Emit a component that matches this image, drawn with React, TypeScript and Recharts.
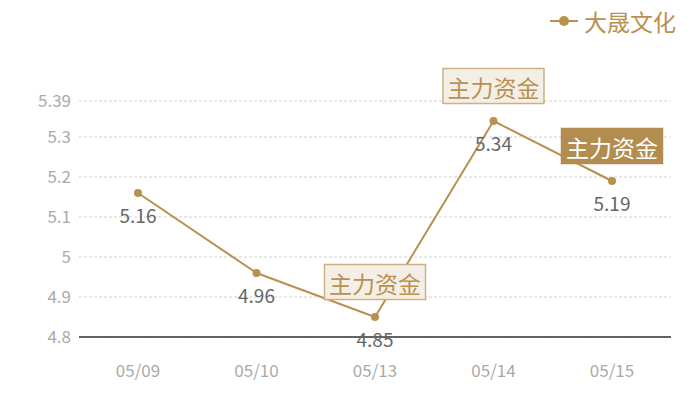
import React from "react";
import {
  LineChart,
  Line,
  XAxis,
  YAxis,
  CartesianGrid,
  LabelList,
  ReferenceDot,
} from "recharts";

const dates = ["05/09", "05/10", "05/13", "05/14", "05/15"];
const prices = [5.16, 4.96, 4.85, 5.34, 5.19];
const yTicks = [4.8, 4.9, 5, 5.1, 5.2, 5.3, 5.39];

// 主力资金 markers: which day, and whether the box is filled
const markDates = ["05/13", "05/14", "05/15"];
const markFilled = [false, false, true];
const markText = "主力资金";

const seriesName = "大晟文化";

const GOLD = "#b8914f";
const FONT = '"Noto Sans CJK SC", "Noto Sans", sans-serif';

const data = dates.map((d, i) => ({ date: d, price: prices[i] }));

const ValueLabel = (props: any) => {
  const { x, y, value } = props;
  return (
    <text
      x={x}
      y={y + 21}
      textAnchor="middle"
      dominantBaseline="central"
      fill="#666"
      fontSize={19}
      fontFamily={FONT}
    >
      {value}
    </text>
  );
};

const MarkBox = ({ cx, cy, filled }: { cx?: number; cy?: number; filled: boolean }) => {
  if (cx == null || cy == null) return null;
  const w = 101;
  const h = 35;
  const top = cy - 35 - h / 2;
  return (
    <g>
      <rect
        x={cx - w / 2}
        y={top}
        width={w}
        height={h}
        fill={filled ? "#b38c50" : "#f4efe6"}
        stroke={filled ? "#b38c50" : "#cdb083"}
        strokeWidth={1.5}
      />
      <text
        x={cx}
        y={top + h / 2 + 1}
        textAnchor="middle"
        dominantBaseline="central"
        fill={filled ? "#ffffff" : GOLD}
        fontSize={23}
        fontFamily={FONT}
      >
        {markText}
      </text>
    </g>
  );
};

export default function App() {
  return (
    <div style={{ position: "fixed", left: 0, top: 0, width: 700, height: 400, background: "#fff" }}>
      <div
        style={{
          position: "absolute",
          top: 4,
          right: 24,
          display: "flex",
          alignItems: "center",
          fontFamily: FONT,
          zIndex: 1,
        }}
      >
        <svg width={30} height={20}>
          <line x1={0} y1={10} x2={28} y2={10} stroke={GOLD} strokeWidth={2} />
          <circle cx={14} cy={10} r={5} fill={GOLD} />
        </svg>
        <span style={{ color: GOLD, fontSize: 23, marginLeft: 4 }}>{seriesName}</span>
      </div>
      <LineChart
        width={700}
        height={400}
        data={data}
        margin={{ top: 101, right: 29, left: 0, bottom: 23 }}
      >
        <CartesianGrid
          horizontal
          vertical={false}
          stroke="#d0d0d0"
          strokeDasharray="3 2"
        />
        <XAxis
          dataKey="date"
          axisLine={{ stroke: "#333333", strokeWidth: 1.5 }}
          tickLine={false}
          tick={{ fill: "#aaaaaa", fontSize: 17, fontFamily: FONT }}
          tickMargin={22}
          padding={{ left: 59, right: 59 }}
          height={40}
        />
        <YAxis
          type="number"
          domain={[4.8, 5.39]}
          ticks={yTicks}
          width={79}
          axisLine={false}
          tickLine={false}
          interval={0}
          tick={{ fill: "#aaaaaa", fontSize: 17, fontFamily: FONT }}
        />
        <Line
          type="linear"
          dataKey="price"
          name={seriesName}
          stroke={GOLD}
          strokeWidth={2}
          dot={{ r: 4, fill: GOLD, stroke: GOLD, strokeWidth: 0 }}
          activeDot={false}
          isAnimationActive={false}
        >
          <LabelList dataKey="price" content={<ValueLabel />} />
        </Line>
        {markDates.map((d, i) => (
          <ReferenceDot
            key={d}
            x={d}
            y={prices[dates.indexOf(d)]}
            ifOverflow="visible"
            shape={(p: any) => <MarkBox cx={p.cx} cy={p.cy} filled={markFilled[i]} />}
          />
        ))}
      </LineChart>
    </div>
  );
}
